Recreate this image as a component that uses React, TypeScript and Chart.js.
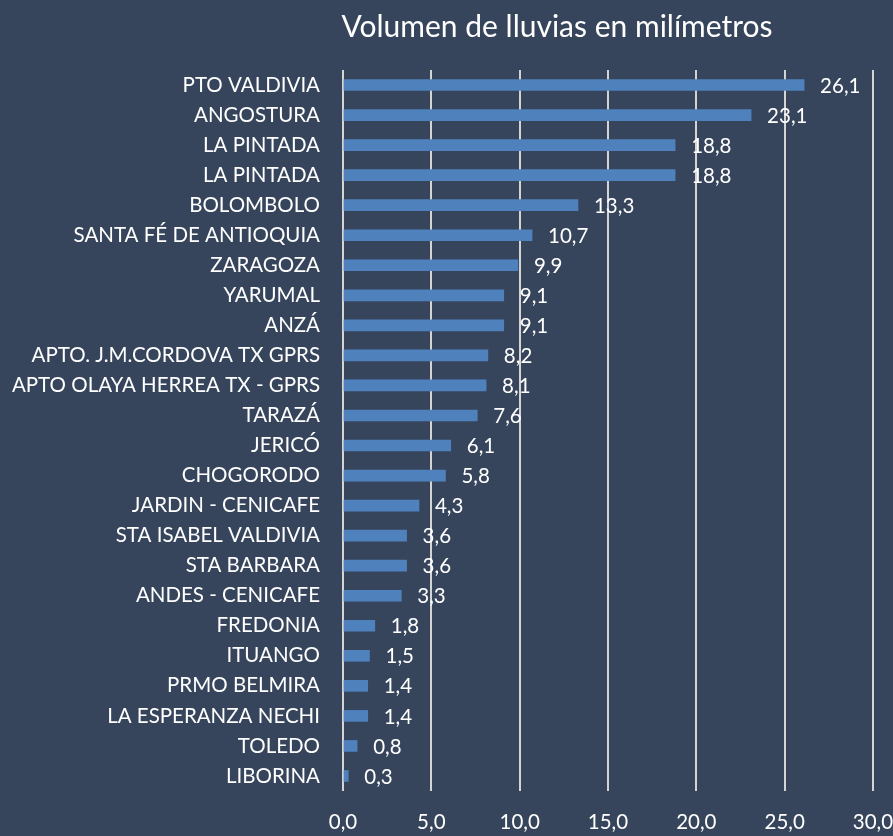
import React, { useEffect, useRef } from "react";
import { Chart, registerables } from "chart.js";

Chart.register(...registerables);

const categories = [
  "PTO VALDIVIA",
  "ANGOSTURA",
  "LA PINTADA",
  "LA PINTADA",
  "BOLOMBOLO",
  "SANTA FÉ DE ANTIOQUIA",
  "ZARAGOZA",
  "YARUMAL",
  "ANZÁ",
  "APTO. J.M.CORDOVA TX GPRS",
  "APTO OLAYA HERREA TX - GPRS",
  "TARAZÁ",
  "JERICÓ",
  "CHOGORODO",
  "JARDIN - CENICAFE",
  "STA ISABEL VALDIVIA",
  "STA BARBARA",
  "ANDES - CENICAFE",
  "FREDONIA",
  "ITUANGO",
  "PRMO BELMIRA",
  "LA ESPERANZA NECHI",
  "TOLEDO",
  "LIBORINA",
];

const rainfall = [
  26.1, 23.1, 18.8, 18.8, 13.3, 10.7, 9.9, 9.1, 9.1, 8.2, 8.1, 7.6, 6.1, 5.8,
  4.3, 3.6, 3.6, 3.3, 1.8, 1.5, 1.4, 1.4, 0.8, 0.3,
];

const xTicks = [0, 5, 10, 15, 20, 25, 30];

const titleText = "Volumen de lluvias en milímetros";

const FONT = "Lato, 'Open Sans', sans-serif";
const fmt = (v: number) => v.toFixed(1).replace(".", ",");

export default function App() {
  const ref = useRef<HTMLCanvasElement | null>(null);

  useEffect(() => {
    document.body.style.margin = "0";
    const canvas = ref.current;
    if (!canvas) return;

    const bgPlugin = {
      id: "bg",
      beforeDraw(chart: any) {
        const { ctx, width, height } = chart;
        ctx.save();
        ctx.fillStyle = "#36455C";
        ctx.fillRect(0, 0, width, height);
        ctx.restore();
      },
    };

    const titlePlugin = {
      id: "customTitle",
      afterDraw(chart: any) {
        const { ctx } = chart;
        ctx.save();
        ctx.fillStyle = "#FFFFFF";
        ctx.font = `30px ${FONT}`;
        ctx.textAlign = "center";
        ctx.textBaseline = "middle";
        ctx.fillText(titleText, 557, 27);
        ctx.restore();
      },
    };

    const labelPlugin = {
      id: "valueLabels",
      afterDatasetsDraw(chart: any) {
        const { ctx } = chart;
        const meta = chart.getDatasetMeta(0);
        ctx.save();
        ctx.fillStyle = "#FFFFFF";
        ctx.font = `20.5px ${FONT}`;
        ctx.textAlign = "left";
        ctx.textBaseline = "middle";
        meta.data.forEach((el: any, i: number) => {
          ctx.fillText(fmt(rainfall[i]), el.x + 16, el.y + 1);
        });
        ctx.restore();
      },
    };

    const chart = new Chart(canvas, {
      type: "bar",
      data: {
        labels: categories,
        datasets: [
          {
            data: rainfall,
            backgroundColor: "#4F81BD",
            borderWidth: 0,
            barThickness: 11,
          },
        ],
      },
      options: {
        indexAxis: "y",
        animation: false,
        responsive: true,
        maintainAspectRatio: false,
        layout: { padding: { top: 70, right: 20, left: 0, bottom: 0 } },
        plugins: {
          legend: { display: false },
          title: { display: false },
          tooltip: { enabled: false },
        },
        scales: {
          x: {
            min: 0,
            max: 30,
            afterBuildTicks(axis: any) {
              axis.ticks = xTicks.map((v) => ({ value: v }));
            },
            afterFit(axis: any) {
              axis.height = 45;
              axis.paddingLeft = 0;
              axis.paddingRight = 0;
            },
            grid: {
              color: "#D4D4D4",
              lineWidth: 2,
              drawTicks: false,
            },
            border: { display: false },
            ticks: {
              color: "#FFFFFF",
              font: { family: FONT, size: 20.5 },
              padding: 19,
              maxRotation: 0,
              callback: (v: any) => fmt(Number(v)),
            },
          },
          y: {
            afterFit(axis: any) {
              axis.width = 343;
              axis.paddingTop = 0;
              axis.paddingBottom = 0;
            },
            grid: { display: false, drawTicks: false },
            border: { display: false },
            ticks: {
              color: "#FFFFFF",
              font: { family: FONT, size: 20.5 },
              padding: 23,
              autoSkip: false,
            },
          },
        },
      },
      plugins: [bgPlugin, titlePlugin, labelPlugin],
    });

    return () => chart.destroy();
  }, []);

  return (
    <div
      style={{
        position: "fixed",
        left: 0,
        top: 0,
        width: 893,
        height: 836,
        background: "#36455C",
      }}
    >
      <canvas ref={ref} />
    </div>
  );
}
